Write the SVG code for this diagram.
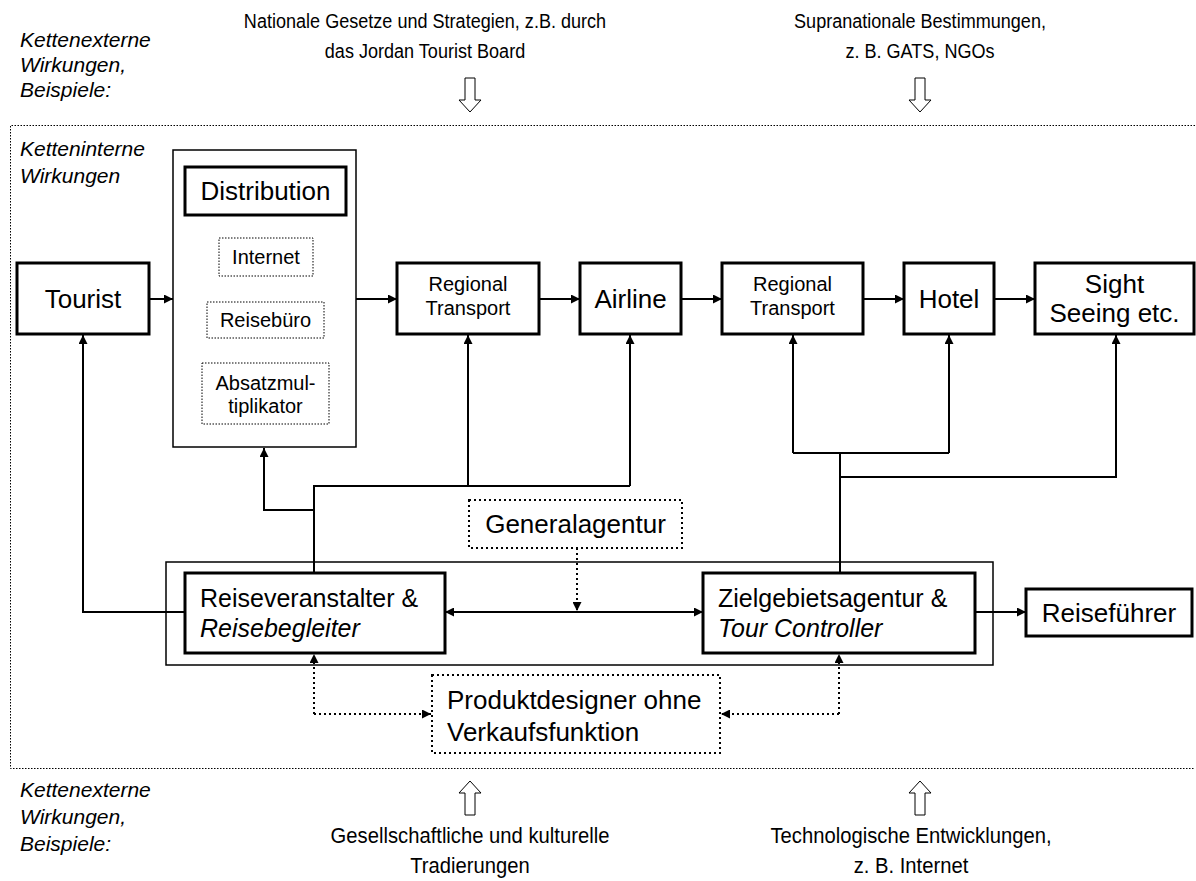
<svg xmlns="http://www.w3.org/2000/svg" width="1196" height="881" viewBox="0 0 1196 881">
<defs>
<marker id="ah" viewBox="0 0 10 10" refX="10" refY="5" markerWidth="10" markerHeight="9" markerUnits="userSpaceOnUse" orient="auto-start-reverse"><path d="M0,0 L10,5 L0,10 Z" fill="#000"/></marker>
</defs>
<style>
text{font-family:"Liberation Sans",Arial,sans-serif;fill:#000}
.t26{font-size:26px}
.t25{font-size:25px}
.t20{font-size:20px}
.lab{font-size:21px;font-style:italic}
.ext{font-size:21px}
.extb{font-size:22px}
.it{font-style:italic}
.box{fill:#fff;stroke:#000;stroke-width:3}
.thin{fill:none;stroke:#000;stroke-width:1.5}
.dot1{fill:none;stroke:#000;stroke-width:1;stroke-dasharray:1.5 1.5}
.dot2{fill:none;stroke:#000;stroke-width:2;stroke-dasharray:2 3}
.ln{fill:none;stroke:#000;stroke-width:2}
.arr{fill:none;stroke:#000;stroke-width:2;marker-end:url(#ah)}
.darr{fill:none;stroke:#000;stroke-width:2;stroke-dasharray:2 3;marker-end:url(#ah)}
.hollow{fill:#fff;stroke:#000;stroke-width:1}
</style>
<rect width="1196" height="881" fill="#fff"/>

<g id="outer-frame">
<path class="dot1" d="M1195,125.5 H10.5 V768.5 H1195"/>
</g>

<g id="labels">
<text class="lab" x="20" y="47">Kettenexterne</text>
<text class="lab" x="20" y="72">Wirkungen,</text>
<text class="lab" x="20" y="97">Beispiele:</text>
<text class="lab" x="20" y="156">Ketteninterne</text>
<text class="lab" x="20" y="183">Wirkungen</text>
<text class="lab" x="20" y="797">Kettenexterne</text>
<text class="lab" x="20" y="824">Wirkungen,</text>
<text class="lab" x="20" y="851">Beispiele:</text>
</g>

<g id="ext-national">
<g transform="translate(425,0) scale(0.86,1)">
<text class="ext" x="0" y="28" text-anchor="middle">Nationale Gesetze und Strategien, z.B. durch</text>
<text class="ext" x="0" y="58" text-anchor="middle">das Jordan Tourist Board</text>
</g>
<path class="hollow" d="M465,78 H475 V100 H481 L470,112 L459,100 H465 Z"/>
</g>
<g id="ext-supranational">
<g transform="translate(920,0) scale(0.86,1)">
<text class="ext" x="0" y="28" text-anchor="middle">Supranationale Bestimmungen,</text>
<text class="ext" x="0" y="58" text-anchor="middle">z. B. GATS, NGOs</text>
</g>
<path class="hollow" d="M915,78 H925 V100 H931 L920,112 L909,100 H915 Z"/>
</g>
<g id="ext-gesellschaft">
<path class="hollow" d="M465,815 V793 H459 L470,781 L481,793 H475 V815 Z"/>
<g transform="translate(470,0) scale(0.92,1)">
<text class="extb" x="0" y="843" text-anchor="middle">Gesellschaftliche und kulturelle</text>
<text class="extb" x="0" y="873" text-anchor="middle">Tradierungen</text>
</g>
</g>
<g id="ext-technologie">
<path class="hollow" d="M915,815 V793 H909 L920,781 L931,793 H925 V815 Z"/>
<g transform="translate(911,0) scale(0.92,1)">
<text class="extb" x="0" y="843" text-anchor="middle">Technologische Entwicklungen,</text>
<text class="extb" x="0" y="873" text-anchor="middle">z. B. Internet</text>
</g>
</g>

<g id="connectors">
<line class="arr" x1="149" y1="299" x2="173" y2="299"/>
<line class="arr" x1="356" y1="299" x2="397" y2="299"/>
<line class="arr" x1="539" y1="299" x2="580" y2="299"/>
<line class="arr" x1="681" y1="299" x2="722" y2="299"/>
<line class="arr" x1="863" y1="299" x2="904" y2="299"/>
<line class="arr" x1="994" y1="299" x2="1035" y2="299"/>
<polyline class="arr" points="185,612 83,612 83,335"/>
<polyline class="ln" points="314,573 314,486 630,486"/>
<polyline class="arr" points="314,510 264,510 264,448"/>
<line class="arr" x1="468" y1="486" x2="468" y2="335"/>
<line class="arr" x1="630" y1="486" x2="630" y2="335"/>
<line class="ln" x1="840" y1="573" x2="840" y2="453"/>
<polyline class="arr" points="793,453 793,335"/>
<polyline class="ln" points="793,453 949,453"/>
<line class="arr" x1="949" y1="453" x2="949" y2="335"/>
<polyline class="arr" points="840,477 1116,477 1116,335"/>
<line class="arr" x1="577" y1="612" x2="445" y2="612"/>
<line class="arr" x1="577" y1="612" x2="703" y2="612"/>
<line class="darr" x1="577" y1="548" x2="577" y2="611"/>
<line class="arr" x1="975" y1="612" x2="1026" y2="612"/>
<polyline class="darr" points="314,714 314,654"/>
<polyline class="darr" points="314,714 431,714"/>
<polyline class="darr" points="839,714 839,654"/>
<polyline class="darr" points="839,714 721,714"/>
</g>

<g id="tourist">
<rect class="box" x="17" y="263" width="132" height="71"/>
<text class="t26" x="83" y="308" text-anchor="middle">Tourist</text>
</g>

<g id="distribution">
<rect class="thin" x="173" y="150" width="183" height="297" fill="#fff"/>
<rect class="box" x="185" y="167" width="161" height="48"/>
<text class="t26" x="265.5" y="200" text-anchor="middle">Distribution</text>
</g>
<g id="internet">
<rect class="dot1" x="219" y="238" width="94" height="38"/>
<text class="t20" x="266" y="264" text-anchor="middle">Internet</text>
</g>
<g id="reisebuero">
<rect class="dot1" x="207" y="302" width="117" height="36"/>
<text class="t20" x="265.5" y="327" text-anchor="middle">Reisebüro</text>
</g>
<g id="absatzmultiplikator">
<rect class="dot1" x="202" y="363" width="127" height="61"/>
<text class="t20" x="265.5" y="390" text-anchor="middle">Absatzmul-</text>
<text class="t20" x="265.5" y="413" text-anchor="middle">tiplikator</text>
</g>

<g id="regional-transport-1">
<rect class="box" x="397" y="263" width="142" height="71"/>
<text class="t20" x="468" y="291" text-anchor="middle">Regional</text>
<text class="t20" x="468" y="315" text-anchor="middle">Transport</text>
</g>
<g id="airline">
<rect class="box" x="580" y="263" width="101" height="71"/>
<text class="t26" x="630.5" y="308" text-anchor="middle">Airline</text>
</g>
<g id="regional-transport-2">
<rect class="box" x="722" y="263" width="141" height="71"/>
<text class="t20" x="792.5" y="291" text-anchor="middle">Regional</text>
<text class="t20" x="792.5" y="315" text-anchor="middle">Transport</text>
</g>
<g id="hotel">
<rect class="box" x="904" y="263" width="90" height="71"/>
<text class="t26" x="949" y="308" text-anchor="middle">Hotel</text>
</g>
<g id="sightseeing">
<rect class="box" x="1035" y="263" width="159" height="71"/>
<text class="t26" x="1114.5" y="293" text-anchor="middle">Sight</text>
<text class="t26" x="1114.5" y="322" text-anchor="middle">Seeing etc.</text>
</g>

<g id="generalagentur">
<rect class="dot2" x="469" y="500" width="213" height="48" fill="#fff"/>
<text class="t26" x="575.5" y="533" text-anchor="middle">Generalagentur</text>
</g>

<g id="veranstalter-gruppe">
<rect class="thin" x="166" y="562" width="827" height="103"/>
</g>
<g id="reiseveranstalter">
<rect class="box" x="185" y="573" width="260" height="80"/>
<text class="t25" x="200" y="607">Reiseveranstalter &amp;</text>
<text class="t25 it" x="200" y="637">Reisebegleiter</text>
</g>
<g id="zielgebietsagentur">
<rect class="box" x="703" y="573" width="272" height="80"/>
<text class="t25" x="718" y="607">Zielgebietsagentur &amp;</text>
<text class="t25 it" x="718" y="637">Tour Controller</text>
</g>
<g id="reisefuehrer">
<rect class="box" x="1026" y="589" width="166" height="47"/>
<text class="t26" x="1109" y="622" text-anchor="middle">Reiseführer</text>
</g>
<g id="produktdesigner">
<rect class="dot2" x="432" y="675" width="288" height="78"/>
<text class="t26" x="447" y="709">Produktdesigner ohne</text>
<text class="t26" x="447" y="741">Verkaufsfunktion</text>
</g>
</svg>
